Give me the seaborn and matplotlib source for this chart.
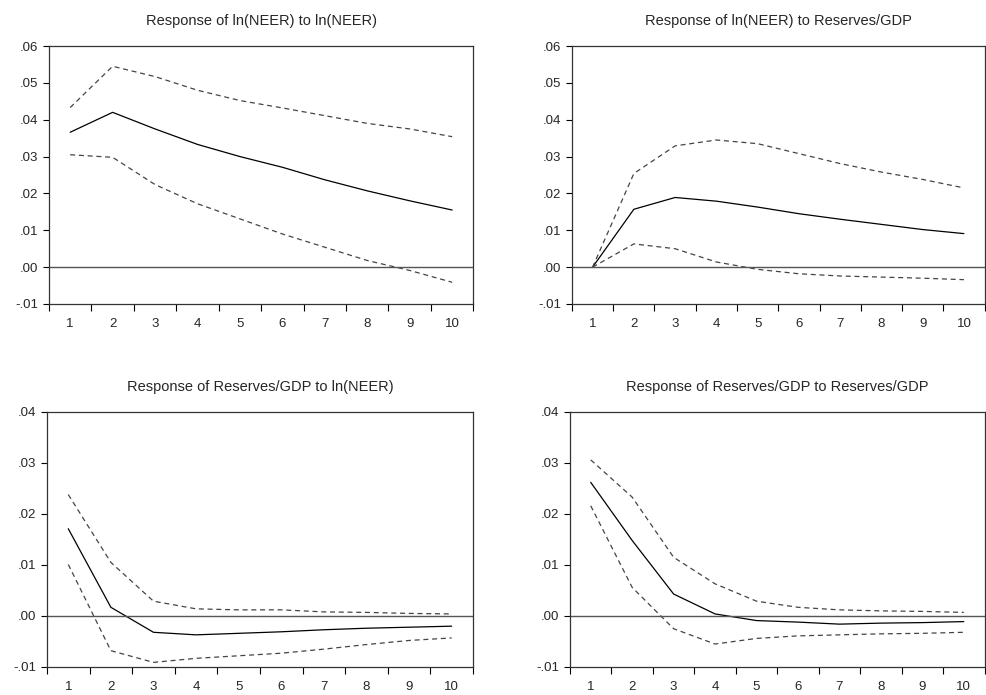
import numpy as np
import pandas as pd
import matplotlib
matplotlib.use("Agg")
import matplotlib.pyplot as plt
import seaborn as sns
from matplotlib.ticker import FixedLocator, FuncFormatter

periods = list(range(1, 11))

# Response of ln(NEER) to ln(NEER)
neer_neer = [0.0366, 0.0420, 0.0375, 0.0333, 0.0300, 0.0271, 0.0237, 0.0207, 0.0180, 0.0155]
neer_neer_up = [0.0433, 0.0545, 0.0517, 0.0480, 0.0452, 0.0432, 0.0411, 0.0390, 0.0375, 0.0354]
neer_neer_lo = [0.0305, 0.0298, 0.0224, 0.0172, 0.0131, 0.0090, 0.0054, 0.0018, -0.0009, -0.0041]

# Response of ln(NEER) to Reserves/GDP
neer_res = [0.0, 0.0157, 0.0189, 0.0179, 0.0163, 0.0145, 0.0130, 0.0116, 0.0102, 0.0091]
neer_res_up = [0.0, 0.0254, 0.0329, 0.0345, 0.0335, 0.0308, 0.0281, 0.0258, 0.0238, 0.0215]
neer_res_lo = [0.0, 0.0063, 0.0050, 0.0014, -0.0006, -0.0018, -0.0024, -0.0027, -0.0030, -0.0034]

# Response of Reserves/GDP to ln(NEER)
res_neer = [0.0171, 0.0017, -0.0032, -0.0037, -0.0034, -0.0031, -0.0027, -0.0024, -0.0022, -0.0020]
res_neer_up = [0.0238, 0.0105, 0.0029, 0.0014, 0.0012, 0.0012, 0.0008, 0.0007, 0.0005, 0.0004]
res_neer_lo = [0.0101, -0.0068, -0.0091, -0.0083, -0.0078, -0.0073, -0.0065, -0.0056, -0.0048, -0.0043]

# Response of Reserves/GDP to Reserves/GDP
res_res = [0.0262, 0.0148, 0.0043, 0.0004, -0.0009, -0.0012, -0.0016, -0.0014, -0.0013, -0.0011]
res_res_up = [0.0306, 0.0233, 0.0115, 0.0063, 0.0029, 0.0017, 0.0012, 0.0010, 0.0009, 0.0007]
res_res_lo = [0.0216, 0.0056, -0.0025, -0.0055, -0.0044, -0.0039, -0.0037, -0.0035, -0.0034, -0.0032]

titles = [
    "Response of ln(NEER) to ln(NEER)",
    "Response of ln(NEER) to Reserves/GDP",
    "Response of Reserves/GDP to ln(NEER)",
    "Response of Reserves/GDP to Reserves/GDP",
]
panels = [
    (neer_neer, neer_neer_up, neer_neer_lo),
    (neer_res, neer_res_up, neer_res_lo),
    (res_neer, res_neer_up, res_neer_lo),
    (res_res, res_res_up, res_res_lo),
]
ylims = [(-0.01, 0.06), (-0.01, 0.06), (-0.01, 0.04), (-0.01, 0.04)]
positions = [
    [0.0496, 0.5626, 0.4300, 0.3712],
    [0.5795, 0.5626, 0.4180, 0.3712],
    [0.0476, 0.0403, 0.4316, 0.3670],
    [0.5775, 0.0403, 0.4200, 0.3670],
]

sns.set_style("white")
plt.rcParams["font.family"] = ["Liberation Sans", "DejaVu Sans"]

fig = plt.figure(figsize=(9.87, 6.95), dpi=100)


def fmt(v, pos):
    s = "%.2f" % v
    if s.startswith("-0"):
        return "-" + s[2:]
    return s[1:]


for i in range(4):
    mean, up, lo = panels[i]
    ax = fig.add_axes(positions[i])
    df = pd.DataFrame({"period": periods, "mean": mean, "upper": up, "lower": lo})
    sns.lineplot(data=df, x="period", y="mean", ax=ax, color="black", linewidth=0.9)
    sns.lineplot(data=df, x="period", y="upper", ax=ax, color="#444444",
                 linewidth=0.9, linestyle=(0, (4, 3)))
    sns.lineplot(data=df, x="period", y="lower", ax=ax, color="#444444",
                 linewidth=0.9, linestyle=(0, (4, 3)))
    ax.axhline(0, color="#555555", linewidth=1.0)

    ax.set_xlim(0.5, 10.5)
    ax.set_ylim(*ylims[i])
    ax.set_xticks(periods)
    ax.xaxis.set_minor_locator(FixedLocator(np.arange(0.5, 11, 1.0)))
    ax.tick_params(axis="x", which="major", length=0, labelsize=9.5, pad=10)
    ax.tick_params(axis="x", which="minor", bottom=True, length=5, width=0.8,
                   direction="out", color="black")
    ax.yaxis.set_major_locator(FixedLocator(np.arange(ylims[i][0], ylims[i][1] + 0.001, 0.01)))
    ax.yaxis.set_major_formatter(FuncFormatter(fmt))
    ax.tick_params(axis="y", which="major", length=4, width=0.8, direction="out",
                   color="black", labelsize=9.5, left=True)
    ax.set_xlabel("")
    ax.set_ylabel("")
    for sp in ax.spines.values():
        sp.set_color("#333333")
        sp.set_linewidth(0.9)
    ax.set_title(titles[i], fontsize=10.5, pad=15)

fig.savefig("out.png", dpi=100)
